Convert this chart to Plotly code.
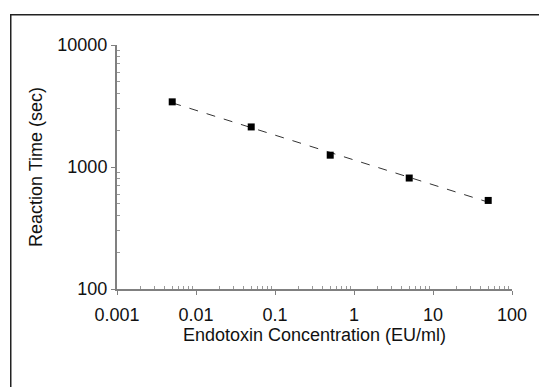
import numpy as np
import plotly.graph_objects as go

conc = [0.005, 0.05, 0.5, 5, 50]
time_sec = [3420, 2130, 1250, 812, 532]
x_ticks = [0.001, 0.01, 0.1, 1, 10, 100]
x_labels = ["0.001", "0.01", "0.1", "1", "10", "100"]
y_ticks = [100, 1000, 10000]
y_labels = ["100", "1000", "10000"]

# power-law trendline fitted from the data
b, a = np.polyfit(np.log10(conc), np.log10(time_sec), 1)
fit_x = [conc[0], conc[-1]]
fit_y = [10 ** (a + b * np.log10(v)) for v in fit_x]


def minor_positions(decades):
    return [k * d for d in decades[:-1] for k in range(2, 10)]


fig = go.Figure()
fig.add_trace(go.Scatter(x=fit_x, y=fit_y, mode="lines",
                         line=dict(color="#333333", width=1, dash="dash"),
                         showlegend=False, hoverinfo="skip"))
fig.add_trace(go.Scatter(x=conc, y=time_sec, mode="markers",
                         marker=dict(symbol="square", size=7, color="black"),
                         showlegend=False))

font = "Liberation Sans, Arial, sans-serif"
axis_common = dict(type="log", showgrid=False, zeroline=False, showline=True,
                   linecolor="#808080", linewidth=2, ticks="outside",
                   tickcolor="#808080", tickwidth=1, ticklen=4,
                   tickfont=dict(size=18, color="#111111"))
fig.update_layout(
    width=539, height=387,
    margin=dict(l=117, r=23, t=45, b=98),
    paper_bgcolor="rgba(0,0,0,0)", plot_bgcolor="white",
    font=dict(family=font, size=18, color="#111111"),
    xaxis=dict(axis_common, range=[-3, 2], tickvals=x_ticks, ticktext=x_labels,
               ticklabelstandoff=4,
               minor=dict(tickmode="array", tickvals=minor_positions(x_ticks),
                          ticks="inside", ticklen=3, tickcolor="#999999", showgrid=False),
               title=dict(text="Endotoxin Concentration (EU/ml)", font=dict(size=18), standoff=5)),
    yaxis=dict(axis_common, range=[2, 4], tickvals=y_ticks, ticktext=y_labels,
               minor=dict(tickmode="array", tickvals=minor_positions(y_ticks),
                          ticks="inside", ticklen=3, tickcolor="#999999", showgrid=False),
               title=dict(text="Reaction Time (sec)", font=dict(size=18), standoff=10)),
)
# outer frame (only top and left edges are visible in the reference), drawn as page background
frame_js = (
    "document.documentElement.style.overflow='hidden';"
    "document.body.style.margin='0';document.body.style.overflow='hidden';"
    "var gd=document.getElementById('{plot_id}');"
    "gd.style.background='linear-gradient(#222,#222) 10px 14px / 529px 1.5px no-repeat,"
    " linear-gradient(#222,#222) 10px 14px / 1.5px 373px no-repeat, #ffffff';"
)
fig.write_html("out.html", config={"displayModeBar": False}, post_script=frame_js)
